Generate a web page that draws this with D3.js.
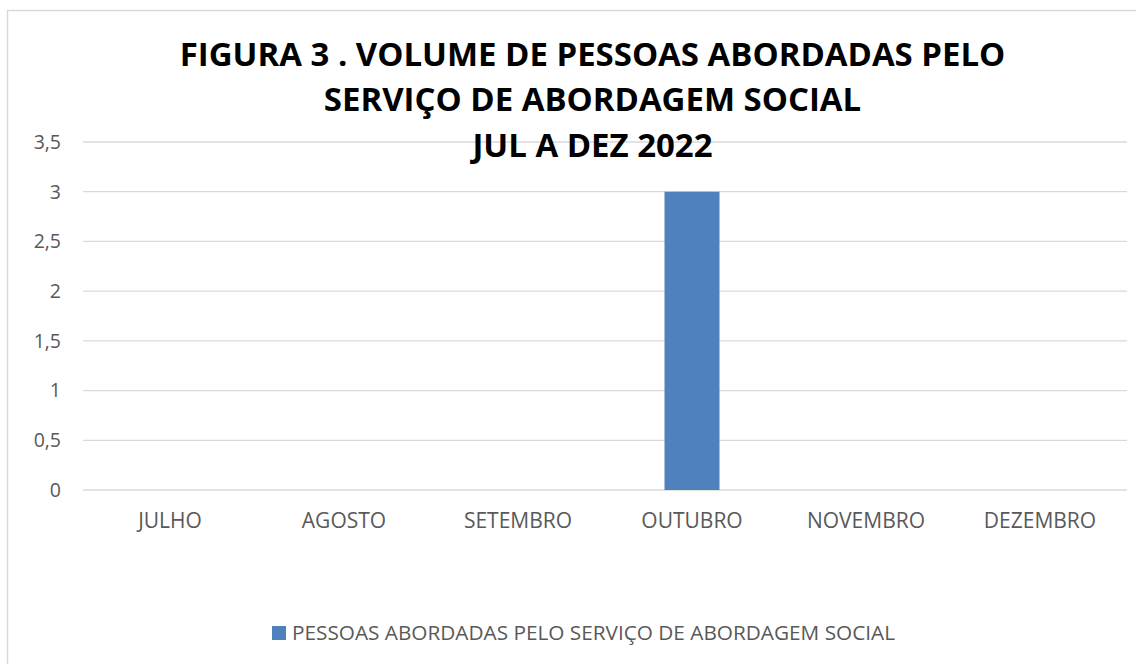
<!DOCTYPE html>
<html>
<head>
<meta charset="utf-8">
<script src="https://cdn.jsdelivr.net/npm/d3@7"></script>
<style>
  html, body { margin: 0; padding: 0; background: #fff; }
  svg { display: block; font-family: 'Open Sans', sans-serif; }
</style>
</head>
<body>
<svg id="chart" width="1136" height="664"></svg>
<script>
const months = ['JULHO', 'AGOSTO', 'SETEMBRO', 'OUTUBRO', 'NOVEMBRO', 'DEZEMBRO'];
const values = [0, 0, 0, 3, 0, 0];
const yTicks = [0, 0.5, 1, 1.5, 2, 2.5, 3, 3.5];
const titleLines = [
  'FIGURA 3 . VOLUME DE PESSOAS ABORDADAS PELO',
  'SERVIÇO DE ABORDAGEM SOCIAL',
  'JUL A DEZ 2022'
];
const seriesName = 'PESSOAS ABORDADAS PELO SERVIÇO DE ABORDAGEM SOCIAL';

const svg = d3.select('#chart');

// chart area border (runs off the right and bottom edge)
svg
  .append('rect')
  .attr('x', 7.5)
  .attr('y', 10.5)
  .attr('width', 1140)
  .attr('height', 670)
  .attr('fill', 'none')
  .attr('stroke', '#d9d9d9')
  .attr('stroke-width', 1.5);

const x = d3
  .scaleBand()
  .domain(months)
  .range([83, 1127])
  .paddingInner(0.684)
  .paddingOuter(0.342);

const y = d3.scaleLinear().domain([0, 3.5]).range([490, 142]);
const fmt = d => String(d).replace('.', ',');

// gridlines
svg
  .append('g')
  .attr('stroke', '#d9d9d9')
  .attr('stroke-width', 1.3)
  .selectAll('line')
  .data(yTicks)
  .join('line')
  .attr('x1', 83)
  .attr('x2', 1127)
  .attr('y1', d => y(d))
  .attr('y2', d => y(d));

// y labels
svg
  .append('g')
  .attr('fill', '#595959')
  .attr('font-size', 19.5)
  .attr('text-anchor', 'end')
  .selectAll('text')
  .data(yTicks)
  .join('text')
  .attr('x', 61)
  .attr('y', d => y(d))
  .attr('dy', '0.35em')
  .text(fmt);

// bars
svg
  .append('g')
  .attr('fill', '#4f81bd')
  .selectAll('rect')
  .data(months.map((m, i) => ({ m, v: values[i] })))
  .join('rect')
  .attr('x', d => x(d.m))
  .attr('width', x.bandwidth())
  .attr('y', d => y(d.v))
  .attr('height', d => y(0) - y(d.v));

// x labels
svg
  .append('g')
  .attr('fill', '#595959')
  .attr('font-size', 21)
  .attr('text-anchor', 'middle')
  .selectAll('text')
  .data(months)
  .join('text')
  .attr('x', d => x(d) + x.bandwidth() / 2)
  .attr('y', 528)
  .text(d => d);

// title
svg
  .append('g')
  .attr('transform', 'translate(592.5,0) scale(1.03,1)')
  .attr('font-size', 32)
  .attr('font-weight', 'bold')
  .attr('text-anchor', 'middle')
  .attr('fill', '#000')
  .selectAll('text')
  .data(titleLines)
  .join('text')
  .attr('x', 0)
  .attr('y', (d, i) => 66 + i * 45.5)
  .text(d => d);

// legend
const legend = svg.append('g').attr('transform', 'translate(272,626)');
legend.append('rect').attr('width', 14).attr('height', 14).attr('fill', '#4f81bd');
legend
  .append('text')
  .attr('x', 20)
  .attr('y', 14)
  .attr('font-size', 20)
  .attr('fill', '#595959')
  .attr('textLength', 603)
  .attr('lengthAdjust', 'spacingAndGlyphs')
  .text(seriesName);
</script>
</body>
</html>
